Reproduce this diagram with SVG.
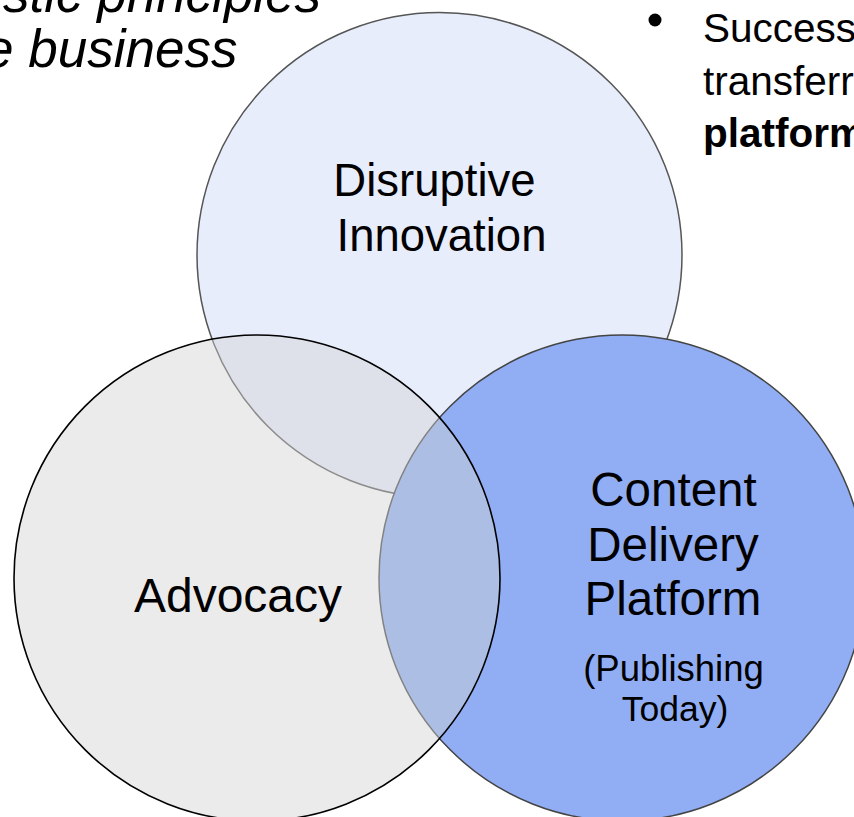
<svg xmlns="http://www.w3.org/2000/svg" width="854" height="817" viewBox="0 0 854 817">
  <style>
    .t { font-family: "Liberation Sans", Arial, sans-serif; fill: #000; }
    .lbl { text-anchor: middle; }
    .it { font-style: italic; font-size: 53px; }
    .bul { font-size: 40.5px; }
  </style>
  <rect width="854" height="817" fill="#ffffff"/>

  <!-- heading text, partly outside the slide area -->
  <g id="heading">
    <text class="t it" x="3" y="12">stic principles</text>
    <text class="t it" x="-16" y="67">e business</text>
  </g>

  <!-- bullet text on the right -->
  <g id="bullet">
    <circle cx="655" cy="20" r="6.5" fill="#000"/>
    <text class="t bul" x="703" y="42">Success</text>
    <text class="t bul" x="703" y="95">transferr</text>
    <text class="t bul" x="703" y="147" font-weight="bold">platform</text>
  </g>

  <g id="disruptive-innovation">
    <circle cx="439.5" cy="255" r="242.5" fill="#e8edfc" stroke="#555555" stroke-width="1.5"/>
  </g>

  <g id="content-delivery-platform">
    <circle cx="622" cy="578" r="243" fill="#91aef5" stroke="#444444" stroke-width="1.5"/>
  </g>

  <g id="advocacy">
    <circle cx="257" cy="578" r="243" fill="#d2d2d2" fill-opacity="0.445" stroke="#000000" stroke-width="1.6"/>
  </g>

  <g id="labels">
    <text class="t lbl" font-size="45.5" x="434.5" y="196">Disruptive</text>
    <text class="t lbl" font-size="45.5" x="441.5" y="251">Innovation</text>
    <text class="t lbl" font-size="48" x="238" y="612">Advocacy</text>
    <text class="t lbl" font-size="47.5" x="673.5" y="506">Content</text>
    <text class="t lbl" font-size="47.5" x="673" y="561">Delivery</text>
    <text class="t lbl" font-size="47.5" x="673" y="615">Platform</text>
    <text class="t lbl" font-size="36.5" x="673.5" y="681">(Publishing</text>
    <text class="t lbl" font-size="35.5" x="675" y="721">Today)</text>
  </g>
</svg>
